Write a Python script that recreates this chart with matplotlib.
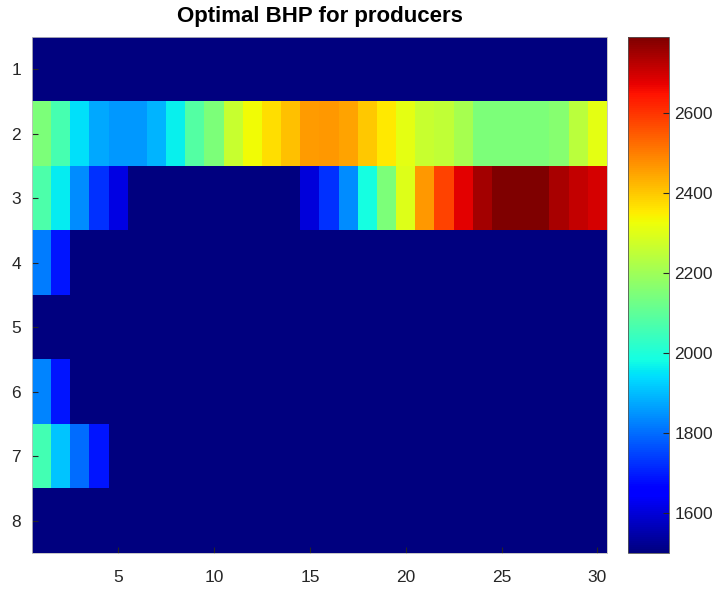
import numpy as np
import matplotlib
matplotlib.use("Agg")
import matplotlib.pyplot as plt

plt.rcParams['font.family'] = ['Liberation Sans', 'DejaVu Sans']

title = "Optimal BHP for producers"
n_steps = 30
wells = [1, 2, 3, 4, 5, 6, 7, 8]
x_ticks = [5, 10, 15, 20, 25, 30]
cbar_ticks = [1600, 1800, 2000, 2200, 2400, 2600]

base = 1500
row1 = [base] * 30
row2 = [2150, 2060, 1945, 1875, 1855, 1855, 1890, 1965, 2080, 2150,
        2265, 2330, 2370, 2410, 2460, 2465, 2450, 2400, 2355, 2310,
        2265, 2255, 2215, 2150, 2150, 2150, 2150, 2165, 2245, 2310]
row3 = [2070, 1960, 1840, 1725, 1615, 1500, 1500, 1500, 1500, 1500,
        1500, 1500, 1500, 1500, 1605, 1725, 1840, 1985, 2145, 2300,
        2467, 2580, 2677, 2745, 2785, 2790, 2790, 2740, 2710, 2690]
row4 = [1820, 1690] + [base] * 28
row5 = [base] * 30
row6 = [1830, 1690] + [base] * 28
row7 = [2055, 1910, 1800, 1690] + [base] * 26
row8 = [base] * 30

data = np.array([row1, row2, row3, row4, row5, row6, row7, row8], dtype=float)

fig = plt.figure(figsize=(7.22, 5.92), dpi=100)
ax = fig.add_axes([32/722, 1 - 553/592, (607-32)/722, (553-37)/592])
im = ax.imshow(data, cmap='jet', aspect='auto', interpolation='nearest',
               extent=[0.5, n_steps + 0.5, len(wells) + 0.5, 0.5],
               vmin=data.min(), vmax=data.max())
ax.set_xticks(x_ticks)
ax.set_yticks(wells)
ax.tick_params(direction='in', length=4, width=0.8, colors='#262626',
               labelsize=12.5, labelcolor='#262626', pad=8)
ax.tick_params(axis='x', pad=12)
for s in ax.spines.values():
    s.set_color('#bdbdbd')
    s.set_linewidth(0.6)
ax.set_title(title, fontsize=16, fontweight='bold', pad=11)

cax = fig.add_axes([628/722, 1 - 553/592, 41/722, (553-37)/592])
cb = fig.colorbar(im, cax=cax, ticks=cbar_ticks)
cb.ax.tick_params(direction='in', length=4, width=0.8, colors='#262626',
                  labelsize=12.5, labelcolor='#262626', pad=4)
cb.outline.set_edgecolor('#555555')
cb.outline.set_linewidth(0.6)

fig.savefig("out.png", dpi=100)
